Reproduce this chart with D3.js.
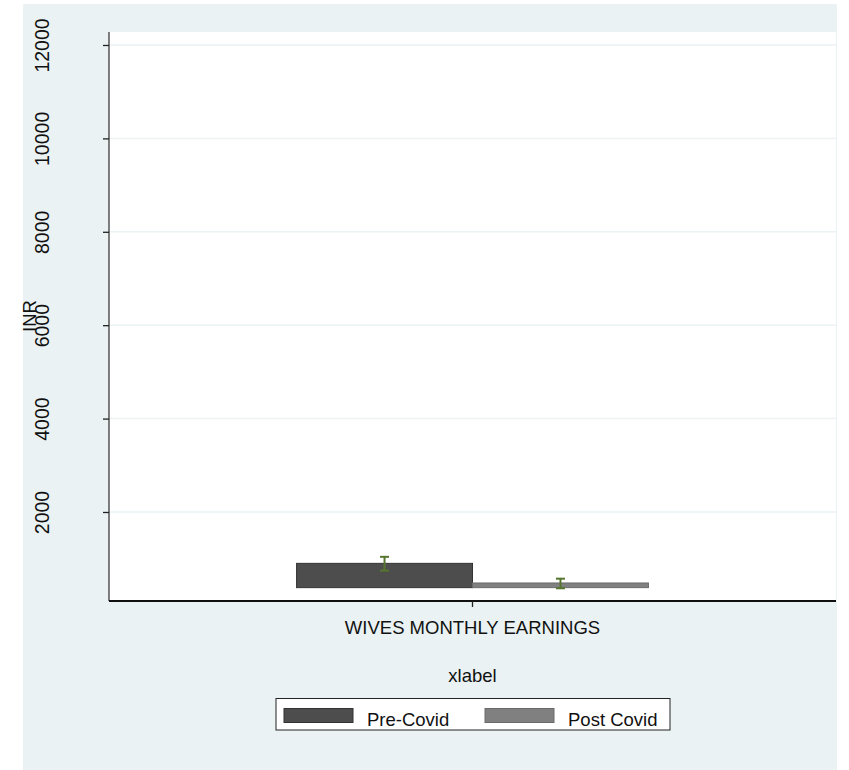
<!DOCTYPE html>
<html>
<head>
<meta charset="utf-8">
<script src="https://cdn.jsdelivr.net/npm/d3@7"></script>
<style>
  body { margin: 0; background: #fff; }
  svg { display: block; font-family: "Liberation Sans", Arial, sans-serif; }
</style>
</head>
<body>
<svg id="chart"></svg>
<script>
const width = 849;
const height = 770;

// data
const categories = ["WIVES MONTHLY EARNINGS"];
const series = ["Pre-Covid", "Post Covid"];
const means = [900, 480];
const barBase = 380;
const ciLow = [745, 366];
const ciHigh = [1040, 572];
const yTicks = [2000, 4000, 6000, 8000, 10000, 12000];

const fills = ["#4d4d4d", "#808080"];
const strokes = ["#333333", "#6a6a6a"];
const errColor = "#56762e";

const plot = { left: 109, right: 836, top: 32, bottom: 601 };

const svg = d3.select("#chart")
  .attr("width", width)
  .attr("height", height);

// graph region
svg.append("rect")
  .attr("x", 23).attr("y", 4)
  .attr("width", 814).attr("height", height - 4)
  .attr("fill", "#eaf2f3");

// plot region
svg.append("rect")
  .attr("x", plot.left).attr("y", plot.top)
  .attr("width", plot.right - plot.left).attr("height", plot.bottom - plot.top)
  .attr("fill", "#ffffff");

const y = d3.scaleLinear()
  .domain([94, 12278])
  .range([plot.bottom, plot.top]);

const x = d3.scaleBand()
  .domain(categories)
  .range([plot.left, plot.right]);

// bars cover 48% of the plot width around the category center
const inner = d3.scaleBand()
  .domain(series)
  .range([0, x.bandwidth() * 0.484]);

const groupX = cat => x(cat) + x.bandwidth() / 2 - inner.range()[1] / 2;

// gridlines
svg.append("g")
  .selectAll("line")
  .data(yTicks)
  .join("line")
  .attr("x1", plot.left).attr("x2", plot.right)
  .attr("y1", d => y(d)).attr("y2", d => y(d))
  .attr("stroke", "#eaf2f3")
  .attr("stroke-width", 1.5);

// bars
const rows = series.map((s, i) => ({ s, i, mean: means[i], lo: ciLow[i], hi: ciHigh[i] }));

svg.append("g")
  .selectAll("rect")
  .data(rows)
  .join("rect")
  .attr("x", d => groupX(categories[0]) + inner(d.s))
  .attr("width", inner.bandwidth())
  .attr("y", d => y(d.mean))
  .attr("height", d => y(barBase) - y(d.mean))
  .attr("fill", d => fills[d.i])
  .attr("stroke", d => strokes[d.i])
  .attr("stroke-width", 1);

// error bars
const err = svg.append("g")
  .attr("stroke", errColor)
  .attr("stroke-width", 2)
  .attr("fill", "none");

rows.forEach(d => {
  const cx = groupX(categories[0]) + inner(d.s) + inner.bandwidth() / 2;
  err.append("line")
    .attr("x1", cx).attr("x2", cx)
    .attr("y1", y(d.lo)).attr("y2", y(d.hi));
  [d.lo, d.hi].forEach(v => {
    err.append("line")
      .attr("x1", cx - 4.5).attr("x2", cx + 4.5)
      .attr("y1", y(v)).attr("y2", y(v));
  });
});

// y axis
const yAxis = svg.append("g")
  .attr("transform", `translate(${plot.left},0)`)
  .call(d3.axisLeft(y).tickValues(yTicks).tickSize(6).tickFormat(d3.format("d")));
yAxis.select(".domain")
  .attr("d", `M0,${plot.top}V${plot.bottom}`)
  .attr("stroke", "#555")
  .attr("stroke-width", 1.5);
yAxis.selectAll(".tick line").attr("stroke", "#222").attr("stroke-width", 1.3);
yAxis.selectAll(".tick text")
  .attr("x", 0).attr("dy", 0)
  .attr("transform", "translate(-60,0) rotate(-90)")
  .attr("text-anchor", "middle")
  .attr("fill", "#111")
  .style("font-size", "19.5px")
  .style("font-family", "'Liberation Sans', Arial, sans-serif");

// x axis
const xAxis = svg.append("g")
  .attr("transform", `translate(0,${plot.bottom})`)
  .call(d3.axisBottom(x).tickSize(6));
xAxis.select(".domain")
  .attr("d", `M${plot.left},0H${plot.right}`)
  .attr("stroke", "#111")
  .attr("stroke-width", 2);
xAxis.selectAll(".tick line").attr("stroke", "#222").attr("stroke-width", 1.3);
xAxis.selectAll(".tick text")
  .attr("y", 33).attr("dy", 0)
  .attr("fill", "#111")
  .style("font-size", "18.5px")
  .style("font-family", "'Liberation Sans', Arial, sans-serif");

// axis titles
svg.append("text")
  .attr("transform", "translate(36,316) rotate(-90)")
  .attr("text-anchor", "middle")
  .attr("fill", "#111")
  .style("font-size", "18.5px")
  .text("INR");

svg.append("text")
  .attr("x", (plot.left + plot.right) / 2)
  .attr("y", 682)
  .attr("text-anchor", "middle")
  .attr("fill", "#111")
  .style("font-size", "18.5px")
  .text("xlabel");

// legend
const legend = svg.append("g");
legend.append("rect")
  .attr("x", 276).attr("y", 698.5)
  .attr("width", 394).attr("height", 31.5)
  .attr("fill", "#fff")
  .attr("stroke", "#222")
  .attr("stroke-width", 1);

const legendX = [284, 485];
series.forEach((s, i) => {
  legend.append("rect")
    .attr("x", legendX[i]).attr("y", 708.5)
    .attr("width", 69).attr("height", 14)
    .attr("fill", fills[i])
    .attr("stroke", strokes[i]);
  legend.append("text")
    .attr("x", legendX[i] + 83)
    .attr("y", 725.5)
    .attr("fill", "#111")
    .style("font-size", "18.5px")
    .text(s);
});
</script>
</body>
</html>
